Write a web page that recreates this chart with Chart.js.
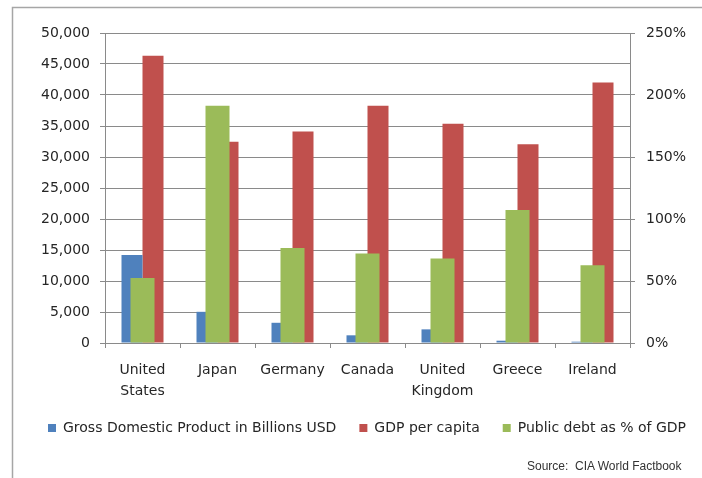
<!DOCTYPE html>
<html>
<head>
<meta charset="utf-8">
<script src="https://cdn.jsdelivr.net/npm/chart.js@4.4.1/dist/chart.umd.min.js"></script>
<style>
  html, body { margin: 0; padding: 0; background: #ffffff; }
  #wrap { position: relative; width: 702px; height: 478px; }
  #source {
    position: absolute; left: 527px; top: 459px;
    font-family: "Liberation Sans Narrow", "Liberation Sans", sans-serif;
    font-size: 12px; color: #333; white-space: nowrap;
  }
</style>
</head>
<body>
<div id="wrap">
  <canvas id="chart" width="702" height="478"></canvas>
  <div id="source">Source:&nbsp; CIA World Factbook</div>
</div>
<script>
// categories
const countries = [["United", "States"], "Japan", "Germany", "Canada", ["United", "Kingdom"], "Greece", "Ireland"];

// series
const gdpBillions = [14200, 5030, 3260, 1240, 2200, 370, 210];
const gdpPerCapita = [46350, 32470, 34130, 38260, 35370, 32040, 42000];
const debtPercent = [52.5, 191.3, 76.6, 72.1, 68.1, 107.2, 62.7];

// tick settings
const leftMax = 50000;
const leftStep = 5000;
const rightMax = 250;
const rightStep = 50;

const gridGrey = "#8a8a8a";
const textColor = "#262626";
const baseFont = { family: "DejaVu Sans", size: 14 };

// grey frame round the whole chart, legend nudged into place
const framePlugin = {
    id: "frame",
    afterLayout(chart) {
        const lg = chart.legend;
        if (lg) {
            lg.top -= 16;
            lg.bottom -= 16;
            lg.left += 10;
            lg.right += 10;
        }
    },
    beforeDraw(chart) {
        const ctx = chart.ctx;
        ctx.save();
        ctx.strokeStyle = "#a6a6a6";
        ctx.lineWidth = 1.5;
        ctx.strokeRect(12.5, 7.5, 720, 520);
        ctx.restore();
    }
};

const ctx = document.getElementById("chart").getContext("2d");

new Chart(ctx, {
    type: "bar",
    data: {
        labels: countries,
        datasets: [
            {
                label: "Gross Domestic Product in Billions USD",
                data: gdpBillions,
                backgroundColor: "#4F81BD",
                yAxisID: "y",
                barPercentage: 1.0,
                categoryPercentage: 0.56,
                order: 1
            },
            {
                label: "GDP per capita",
                data: gdpPerCapita,
                backgroundColor: "#C0504D",
                yAxisID: "y",
                barPercentage: 1.0,
                categoryPercentage: 0.56,
                order: 1
            },
            {
                label: "Public debt as % of GDP",
                data: debtPercent,
                backgroundColor: "#9BBB59",
                yAxisID: "y1",
                grouped: false,
                barPercentage: 0.4,
                order: 0
            }
        ]
    },
    options: {
        responsive: false,
        animation: false,
        layout: {
            padding: { left: 12, right: 0, top: 33, bottom: 17 }
        },
        plugins: {
            legend: {
                position: "bottom",
                labels: {
                    boxWidth: 8,
                    boxHeight: 8,
                    padding: 23,
                    color: textColor,
                    font: baseFont,
                    sort: (a, b) => a.datasetIndex - b.datasetIndex
                }
            },
            tooltip: { enabled: false }
        },
        scales: {
            x: {
                offset: true,
                grid: {
                    offset: true,
                    drawOnChartArea: false,
                    drawTicks: true,
                    tickLength: 5,
                    color: gridGrey
                },
                border: { color: gridGrey },
                ticks: {
                    color: textColor,
                    font: { family: "DejaVu Sans", size: 14, lineHeight: 1.5 },
                    padding: 12,
                    maxRotation: 0
                }
            },
            y: {
                position: "left",
                min: 0,
                max: leftMax,
                afterFit(scale) { scale.width = 93; },
                grid: {
                    color: gridGrey,
                    tickLength: 5
                },
                border: { color: gridGrey },
                ticks: {
                    stepSize: leftStep,
                    color: textColor,
                    font: baseFont,
                    padding: 10,
                    callback: (v) => v.toLocaleString("en-US")
                }
            },
            y1: {
                position: "right",
                min: 0,
                max: rightMax,
                afterFit(scale) { scale.width = 72; },
                grid: {
                    drawOnChartArea: false,
                    color: gridGrey,
                    tickLength: 5
                },
                border: { color: gridGrey },
                ticks: {
                    stepSize: rightStep,
                    color: textColor,
                    font: baseFont,
                    padding: 11,
                    callback: (v) => v + "%"
                }
            }
        }
    },
    plugins: [framePlugin]
});
</script>
</body>
</html>
